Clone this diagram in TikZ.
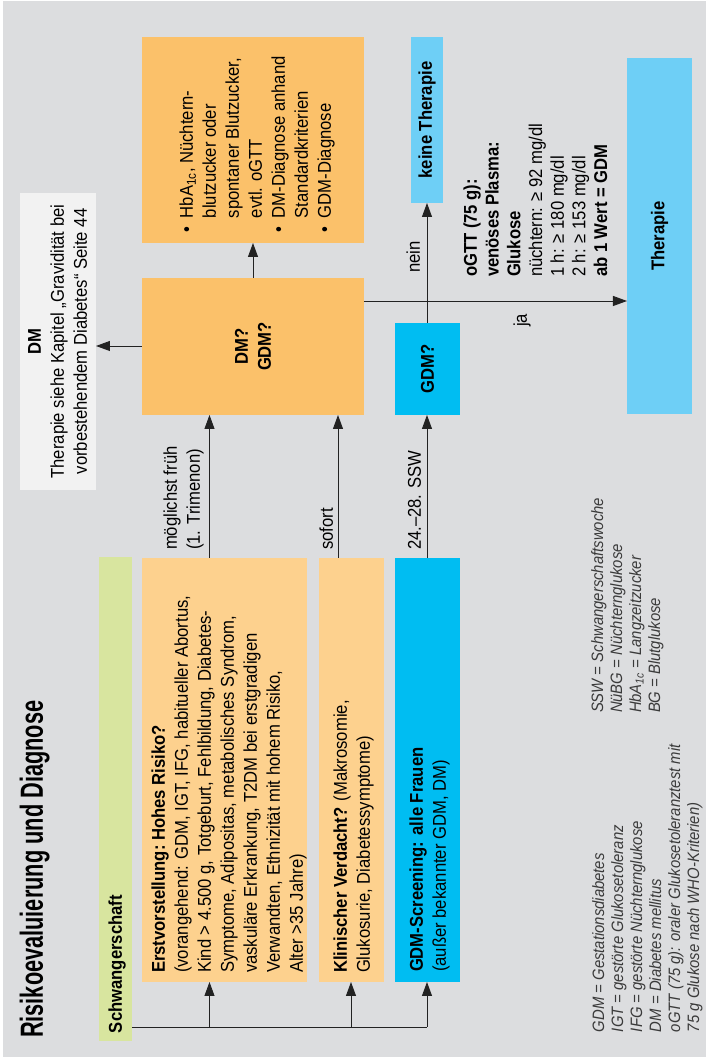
\documentclass[tikz,border=0pt]{standalone}
\usepackage{fontspec}
\setmainfont{Liberation Sans}[FakeStretch=0.9]
\newfontfamily\titlefont{Liberation Sans}[FakeStretch=0.68]
\usetikzlibrary{arrows.meta}
\definecolor{bgc}{HTML}{DCDDDF}
\definecolor{lorange}{HTML}{FDD18E}
\definecolor{dorange}{HTML}{FBC16A}
\definecolor{cyanc}{HTML}{00BDF2}
\definecolor{lblue}{HTML}{6ECFF6}
\definecolor{greenc}{HTML}{D8E59F}
\definecolor{dmgray}{HTML}{F2F2F2}
\definecolor{linec}{HTML}{222222}
\definecolor{legc}{HTML}{3A3A3A}
\newcommand\bodyfont{\fontsize{18.5}{23}\selectfont}
\newcommand\legfont{\fontsize{16.5}{19}\selectfont\itshape}
\begin{document}
\begin{tikzpicture}[x=1pt,y=1pt,
  box/.style={draw=none, inner sep=0pt, outer sep=0pt, anchor=south west},
  txt/.style={inner sep=0pt, outer sep=0pt, align=left, font=\bodyfont},
  plain/.style={inner sep=0pt, outer sep=0pt, font=\bodyfont},
  conn/.style={draw=linec, line width=0.9pt},
  arr/.style={conn, -{Triangle[length=14pt,width=10pt]}},
]
\begin{scope}[rotate=90, transform shape]
\useasboundingbox (0,0) rectangle (1057,706);
\fill[white] (0,0) rectangle (1057,706);
\fill[bgc] (0,0) rectangle (1056,703);

% title
\node[plain, anchor=base west, font=\titlefont\fontsize{32}{36}\bfseries] (title) at (19,663) {Risikoevaluierung und Diagnose};

% left column
\node[box, fill=greenc, minimum width=484, minimum height=33] (schw) at (16,574) {};
\node[plain, anchor=base west, font=\bodyfont\bfseries] (schwt) at (24,584) {Schwangerschaft};

\node[box, fill=lorange, minimum width=424, minimum height=165] (erst) at (75,399) {};
\node[txt, anchor=north west] (erstt) at (84,557.1) {\strut\textbf{Erstvorstellung:\ Hohes Risiko?}\\(vorangehend: GDM, IGT, IFG, habitueller Abortus,\\Kind > 4.500 g, Totgeburt, Fehlbildung, Diabetes-\\Symptome, Adipositas, metabolisches Syndrom,\\vaskuläre Erkrankung, T2DM bei erstgradigen\\Verwandten, Ethnizität mit hohem Risiko,\\Alter >35 Jahre)};

\node[box, fill=lorange, minimum width=424, minimum height=65] (klin) at (75,322) {};
\node[txt, anchor=north west] (klint) at (84,375.1) {\strut\textbf{Klinischer Verdacht?} (Makrosomie,\\Glukosurie, Diabetessymptome)};

\node[box, fill=cyanc, minimum width=424, minimum height=65] (gdms) at (75,246) {};
\node[txt, anchor=north west] (gdmst) at (85,299.1) {\strut\textbf{GDM-Screening: alle Frauen}\\(außer bekannter GDM, DM)};

% middle
\node[box, fill=dorange, minimum width=137, minimum height=222, font=\bodyfont\bfseries, align=center] (dmq) at (642,342) {DM?\\GDM?};
\node[box, fill=cyanc, minimum width=92, minimum height=65, font=\bodyfont\bfseries] (gdmq) at (642,246) {GDM?};

\node[box, fill=dmgray, minimum width=297, minimum height=76] (dmbox) at (567,610) {};
\node[txt, anchor=north, align=center] (dmt) at (715.5,681.1) {\strut\textbf{DM}\\Therapie siehe Kapitel „Gravidität bei\\vorbestehendem Diabetes“ Seite 44};

% right
\node[box, fill=dorange, minimum width=206, minimum height=222] (topb) at (814,342) {};
\node[plain, anchor=north west] (topt) at (824,529.1) {\begin{tabular}{@{}l@{\hspace{9pt}}l@{}}\textbullet & HbA\textsubscript{1c}, Nüchtern-\\ & blutzucker oder\\ & spontaner Blutzucker,\\ & evtl. oGTT\\ \textbullet & DM-Diagnose anhand\\ & Standardkriterien\\ \textbullet & GDM-Diagnose\end{tabular}};

\node[box, fill=lblue, minimum width=166, minimum height=32, font=\bodyfont\bfseries] (keine) at (854,263) {keine Therapie};
\node[box, fill=lblue, minimum width=356, minimum height=65, font=\bodyfont\bfseries] (ther) at (643,14) {Therapie};

\node[txt, anchor=north west, font=\fontsize{18.5}{21.7}\selectfont] (ogtt) at (780,244.2) {\strut\textbf{oGTT (75 g):}\\\textbf{venöses Plasma:}\\\textbf{Glukose}\\nüchtern: ≥ 92 mg/dl\\1 h: ≥ 180 mg/dl\\2 h: ≥ 153 mg/dl\\\textbf{ab 1 Wert = GDM}};

% connectors
\coordinate (busX) at (30,0);
\coordinate (yA) at (0,496.5);
\coordinate (yB) at (0,355);
\coordinate (yC) at (0,279);
\coordinate (yD) at (0,368);
\coordinate (yE) at (0,453);
\coordinate (xF) at (711,0);
\coordinate (xG) at (756,0);
\draw[conn] (schw.south -| busX) -- (busX |- yC);
\draw[arr] (busX |- yA) -- (erst.west |- yA);
\draw[arr] (busX |- yB) -- (klin.west |- yB);
\draw[arr] (busX |- yC) -- (gdms.west |- yC);
\draw[arr] (erst.east |- yA) -- (dmq.west |- yA);
\draw[arr] (klin.east |- yD) -- (dmq.west |- yD);
\draw[arr] (gdms.east |- yC) -- (gdmq.west |- yC);
\draw[arr] (gdmq.east |- yC) -- (keine.west |- yC);
\draw[arr] (dmq.east |- yE) -- (topb.west |- yE);
\draw[arr] (dmq.north -| xF) -- (dmbox.south -| xF);
\draw[arr] (dmq.south -| xG) -- (ther.north -| xG);

% labels
\node[txt, anchor=north west] (l1) at (507,545.1) {\strut möglichst früh\\(1. Trimenon)};
\node[plain, anchor=base west] (l2) at (507,373) {sofort};
\node[plain, anchor=base west] (l3) at (507,285) {24.–28. SSW};
\node[plain, anchor=base west] (l4) at (784,286) {nein};
\node[plain, anchor=base west] (l5) at (730,179) {ja};

% legends
\node[txt, anchor=north west, font=\legfont, text=legc] (leg1) at (25,115.3) {\strut GDM = Gestationsdiabetes\\IGT = gestörte Glukosetoleranz\\IFG = gestörte Nüchternglukose\\DM = Diabetes mellitus\\oGTT (75 g): oraler Glukosetoleranztest mit\\75 g Glukose nach WHO-Kriterien)};
\node[txt, anchor=north west, font=\legfont, text=legc] (leg2) at (344,116.3) {\strut SSW = Schwangerschaftswoche\\NüBG = Nüchternglukose\\HbA\textsubscript{1c} = Langzeitzucker\\BG = Blutglukose};
\end{scope}
\end{tikzpicture}
\end{document}
